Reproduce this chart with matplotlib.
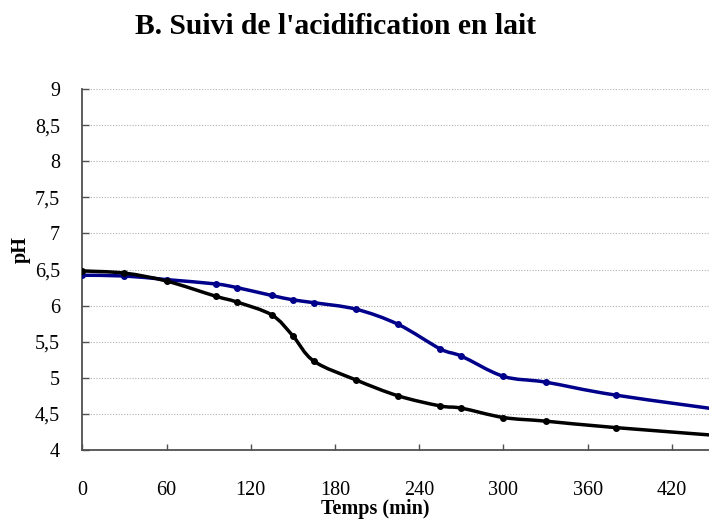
import numpy as np
import matplotlib
matplotlib.use("Agg")
import matplotlib.pyplot as plt
from matplotlib.path import Path
from matplotlib.patches import PathPatch
from matplotlib.ticker import FuncFormatter

# Suivi du pH (min) pour les deux laits
temps = [0, 30, 60, 95, 110, 135, 150, 165, 195, 225, 255, 270, 300, 330, 380, 480]
ph_bleu = [6.42, 6.41, 6.36, 6.30, 6.25, 6.14, 6.08, 6.04, 5.95, 5.74, 5.40, 5.30, 5.02, 4.94, 4.76, 4.49]
ph_noir = [6.48, 6.45, 6.34, 6.13, 6.05, 5.87, 5.58, 5.23, 4.97, 4.75, 4.61, 4.58, 4.45, 4.40, 4.31, 4.16]

x_ticks = [0, 60, 120, 180, 240, 300, 360, 420]
y_ticks = [4, 4.5, 5, 5.5, 6, 6.5, 7, 7.5, 8, 8.5, 9]

serif = ["Liberation Serif", "DejaVu Serif"]


def smooth_path(x, y):
    # courbe lissée type tableur : segments de Bézier (Catmull-Rom)
    pts = np.column_stack([x, y]).astype(float)
    ext = np.vstack([pts[0], pts, pts[-1]])
    verts = [pts[0]]
    codes = [Path.MOVETO]
    for i in range(1, len(ext) - 2):
        p0, p1, p2, p3 = ext[i - 1], ext[i], ext[i + 1], ext[i + 2]
        verts += [p1 + (p2 - p0) / 6, p2 - (p3 - p1) / 6, p2]
        codes += [Path.CURVE4] * 3
    return Path(verts, codes)


fig = plt.figure(figsize=(7.09, 5.2), dpi=100)
ax = fig.add_axes([82.3 / 709, 1 - 450 / 520, 1 - 82.3 / 709, 361 / 520])

for ys, col in [(ph_bleu, "#00008b"), (ph_noir, "black")]:
    ax.add_patch(PathPatch(smooth_path(temps, ys), fill=False, edgecolor=col,
                           lw=2.5, capstyle="round", joinstyle="round", zorder=3))
    ax.plot(temps, ys, "o", color=col, markersize=4, zorder=4)

ax.set_xlim(0, 446.4)
ax.set_ylim(4, 9)
ax.set_xticks(x_ticks)
ax.set_yticks(y_ticks)
ax.yaxis.set_major_formatter(FuncFormatter(lambda v, p: f"{v:g}".replace(".", ",")))

for v in y_ticks[1:]:
    ax.axhline(v, color="#b0b0b0", lw=0.8, ls=(0, (1, 1.5)), zorder=1)

for s in ["top", "right"]:
    ax.spines[s].set_visible(False)
for s in ["left", "bottom"]:
    ax.spines[s].set_color("#505050")
    ax.spines[s].set_linewidth(1.3)

ax.tick_params(axis="x", direction="in", length=4, width=1, color="#505050", pad=22)
ax.tick_params(axis="y", direction="in", length=5, width=1, color="#505050", pad=16)
for lab in ax.get_xticklabels() + ax.get_yticklabels():
    lab.set_family(serif)
    lab.set_fontsize(14.5)

ax.set_xlabel("Temps (min)", family=serif, fontsize=14.5, fontweight="bold", va="center")
ax.xaxis.set_label_coords((375 - 82.3) / 626.7, -(509 - 450) / 361)
ax.set_ylabel("pH", family=serif, fontsize=14.5, fontweight="bold", va="center")
ax.yaxis.set_label_coords((20.7 - 82.3) / 626.7, (450 - 250) / 361)

fig.text(336 / 709, 1 - 27 / 520, "B. Suivi de l'acidification en lait", family=serif,
         fontsize=21.3, fontweight="bold", ha="center", va="center")

fig.savefig("out.png", dpi=100)
